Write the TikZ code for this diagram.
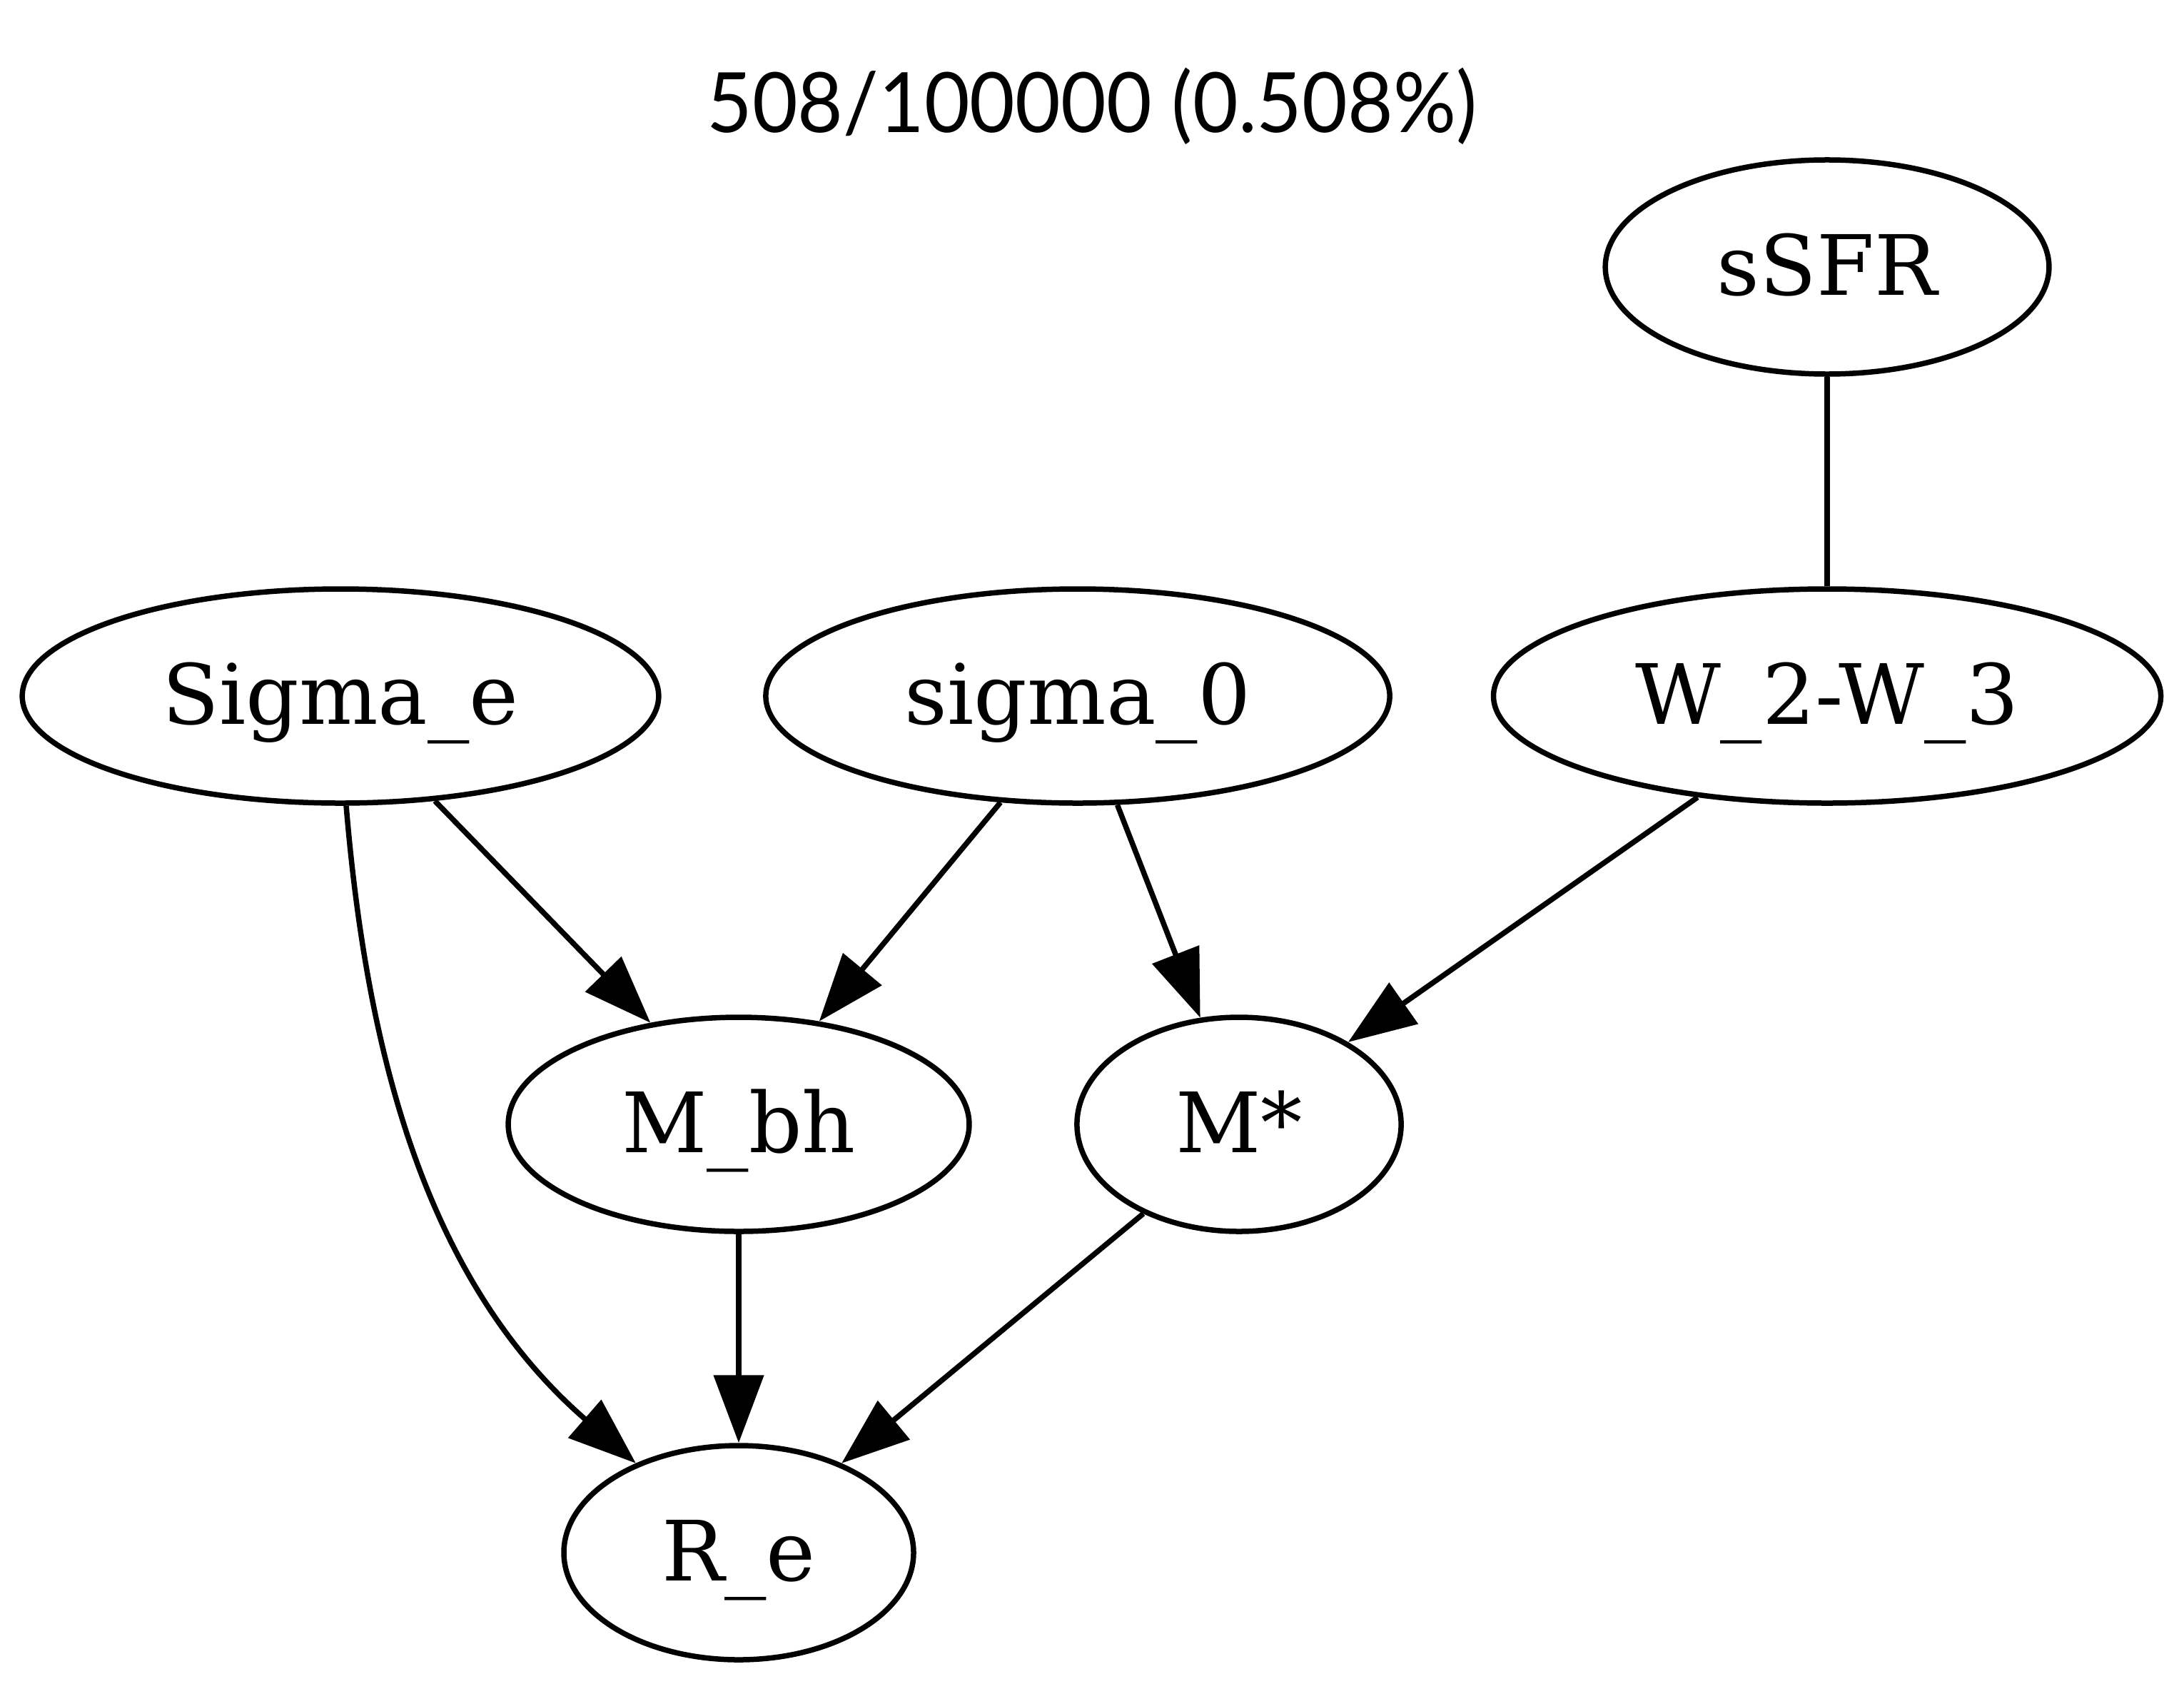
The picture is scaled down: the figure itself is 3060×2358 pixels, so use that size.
\documentclass[tikz,border=0pt]{standalone}
\usepackage{fontspec}
\setmainfont{DejaVu Serif}
\newfontfamily\latofont{Lato}
\usetikzlibrary{arrows.meta,shapes.geometric}
\begin{document}
\begin{tikzpicture}[x=0.12pt, y=-0.12pt,
  gnode/.style={ellipse, draw, line width=0.9pt, inner sep=0pt, minimum height=36pt,
    font=\fontsize{14pt}{16.8pt}\selectfont, text height=10pt, text depth=0.64pt},
  edge/.style={line width=0.9pt, -{Triangle[length=11.4pt, width=8.3pt]}},
  plainedge/.style={line width=0.9pt},
  titlestyle/.style={anchor=base, inner sep=0pt, font=\latofont\fontsize{14pt}{16.8pt}\selectfont}
]
\useasboundingbox (0,0) rectangle (3060,2358);
\fill[white] (0,0) rectangle (3060,2358);

\node[titlestyle] (title) at (1530,186) {\scalebox{0.942}[1]{508/100000 (0.508\%)}};

\node[gnode, minimum width=74.6pt]  (ssfr) at (2560,374)  {sSFR};
\node[gnode, minimum width=107.0pt] (sige) at (477,975)   {Sigma\_e};
\node[gnode, minimum width=104.9pt] (sig0) at (1510,975)  {sigma\_0};
\node[gnode, minimum width=112.2pt] (w23)  at (2560,975)  {W\_2-W\_3};
\node[gnode, minimum width=77.5pt]  (mbh)  at (1035,1575) {M\_bh};
\node[gnode, minimum width=54.5pt]  (mst)  at (1736,1575) {M*};
\node[gnode, minimum width=58.8pt]  (re)   at (1035,2175) {R\_e};

\draw[plainedge] (ssfr.south) -- (w23.north);
\draw[edge] (sige.-48.1) -- (mbh.131.4);
\draw[edge] (sig0.-126.8) -- (mbh.52.6);
\draw[edge] (sig0.-70.1) -- (mst.110.3);
\draw[edge] (w23.-142.6) -- (mst.37.5);
\draw[edge] (mst.-137.6) -- (re.41.9);
\draw[edge] (mbh.south) -- (re.north);
\draw[edge] (sige.-87) .. controls (514,1476) and (596.5,1794) .. (re.139.8);
\end{tikzpicture}
\end{document}
